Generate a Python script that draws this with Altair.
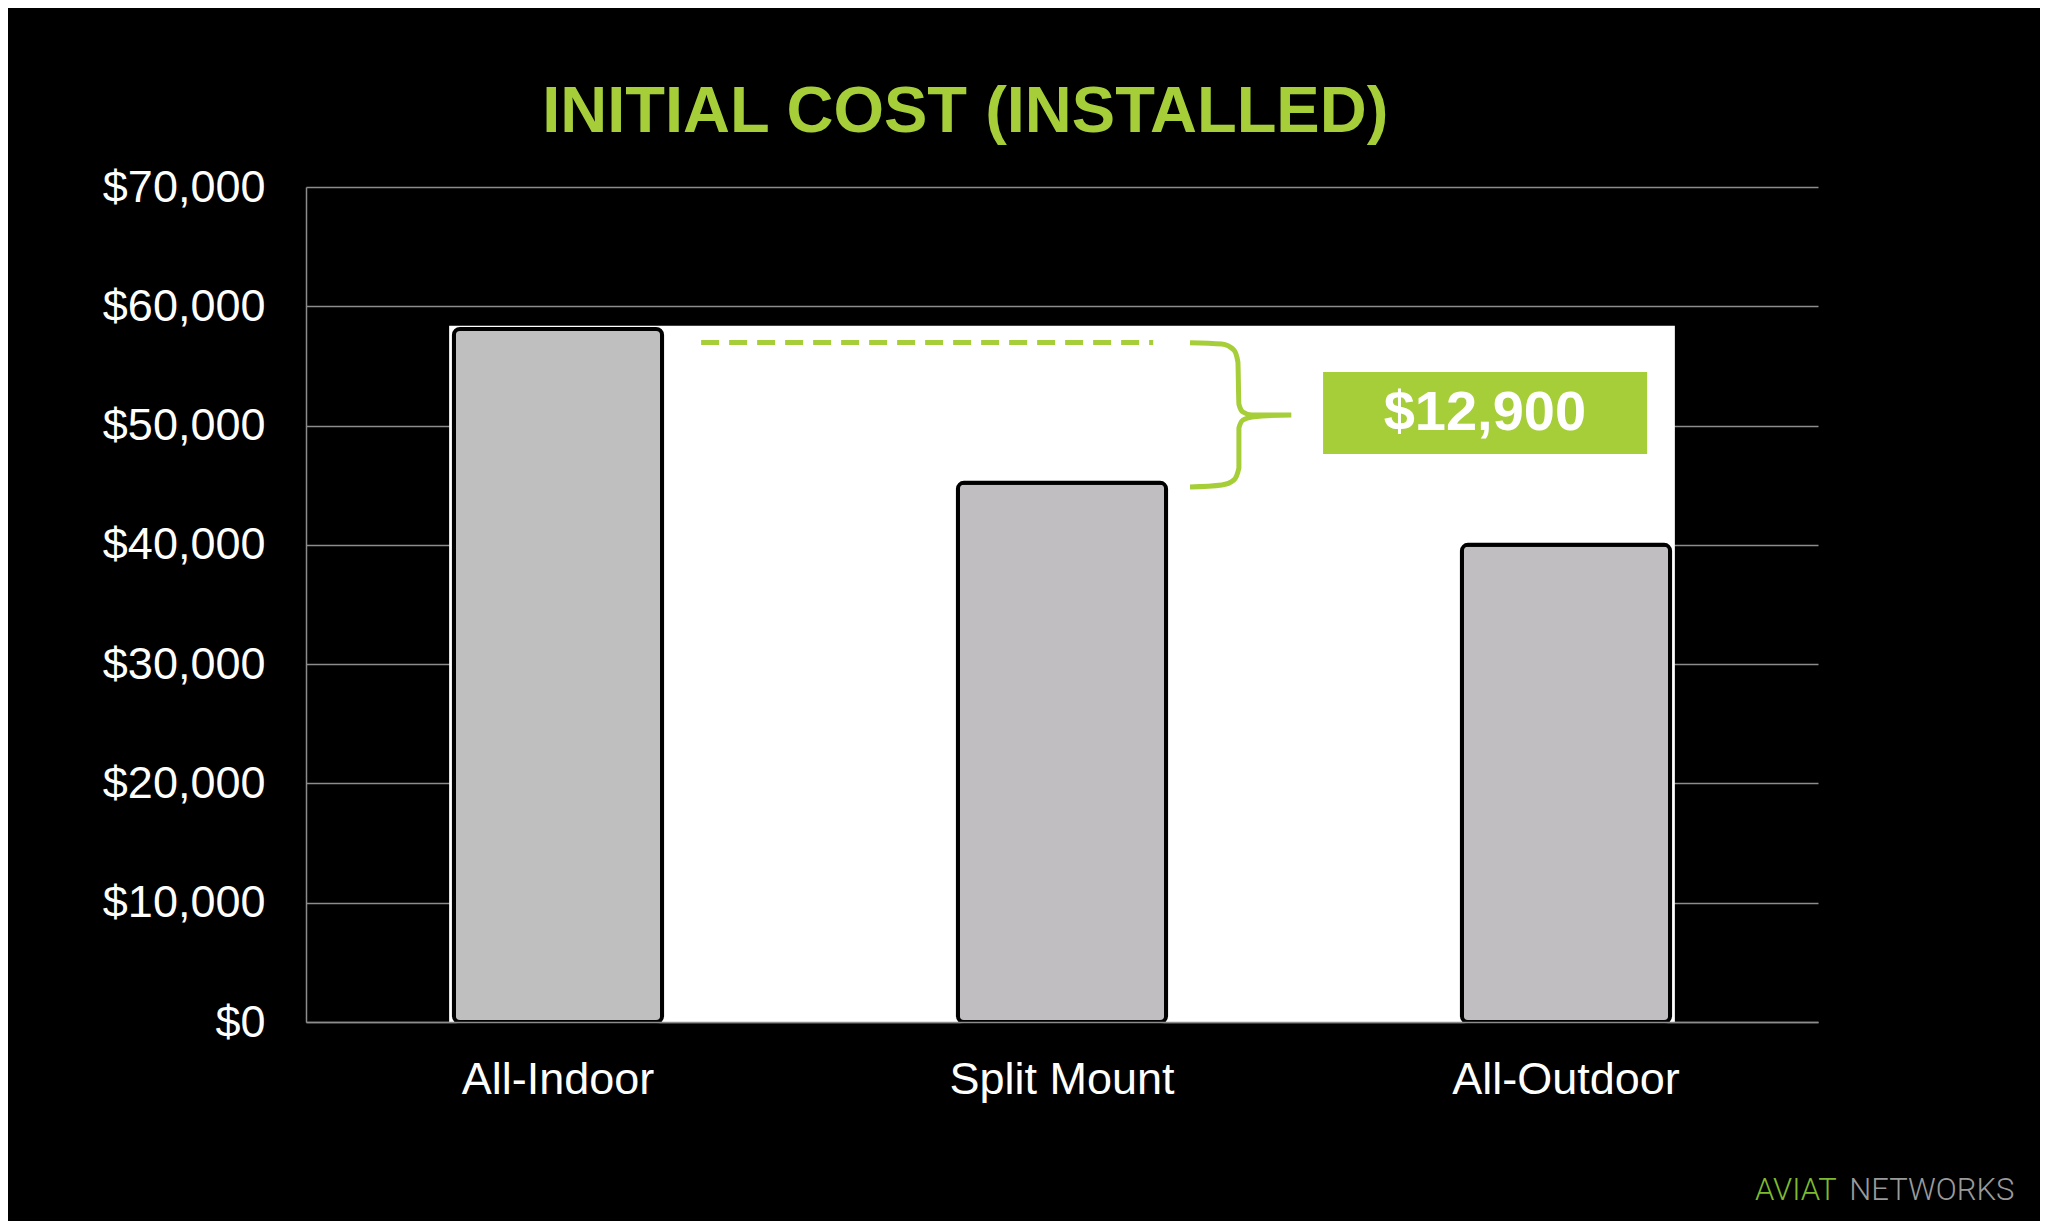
import altair as alt
import pandas as pd

# ---- data ----
categories = ["All-Indoor", "Split Mount", "All-Outdoor"]
costs = [58100, 45200, 40000]
bar_colors = ["#BFBFBF", "#C0BEC1", "#C0BEC1"]

# highlight panel behind the bars (x in category units 0..3, y in dollars)
panel_x = [0.284, 2.716]
panel_y = [0, 58370]

# dashed reference line at the All-Indoor level
dash_x = [0.784, 1.681]
dash_y = 56960

# curly brace marking the difference
brace_x = [1.754, 1.817, 1.841, 1.849, 1.851, 1.859, 1.877, 1.955,
           1.877, 1.859, 1.851, 1.851, 1.841, 1.817, 1.754]
brace_y = [56945, 56837, 56334, 55328, 51807, 51136, 50885, 50885,
           50717, 50466, 49795, 46442, 45436, 45017, 44850]

# savings callout
callout_text = "$12,900"
callout_x = [2.018, 2.661]
callout_y = [47615, 54490]
callout_label_pos = (2.339, 51050)

# chart heading
heading_text = "INITIAL COST (INSTALLED)"
heading_pos = (1.308, 74610)

# logo
logo_words = ["AVIAT", "NETWORKS"]
logo_x = [2.875, 3.062]
logo_y = -14922
logo_colors = ["#7DBA2F", "#9A9A9A"]

GREEN = "#A6CE39"
FONT = "Liberation Sans"

bars_df = pd.DataFrame({"category": categories, "cost": costs, "c": bar_colors})
panel_df = pd.DataFrame({"x": [panel_x[0]], "x2": [panel_x[1]], "y": [panel_y[0]], "y2": [panel_y[1]]})
dash_df = pd.DataFrame({"x": [dash_x[0]], "x2": [dash_x[1]], "y": [dash_y]})
brace_df = pd.DataFrame({"x": brace_x, "y": brace_y, "order": list(range(len(brace_x)))})
box_df = pd.DataFrame({"x": [callout_x[0]], "x2": [callout_x[1]], "y": [callout_y[0]], "y2": [callout_y[1]]})
label_df = pd.DataFrame({"x": [callout_label_pos[0]], "y": [callout_label_pos[1]], "t": [callout_text]})
heading_df = pd.DataFrame({"x": [heading_pos[0]], "y": [heading_pos[1]], "t": [heading_text]})
logo_df = pd.DataFrame({"x": logo_x, "y": [logo_y, logo_y], "t": logo_words, "c": logo_colors})

yscale = alt.Scale(domain=[0, 70000], nice=False)
ux = alt.Scale(domain=[0, 3], nice=False, zero=False)

y_axis = alt.Axis(
    values=list(range(0, 70001, 10000)),
    format="$,d",
    labelColor="white",
    labelFont=FONT,
    labelFontSize=45,
    labelPadding=41,
    ticks=False,
    domain=True,
    domainColor="#8c8c8c",
    domainWidth=1.5,
    grid=True,
    gridColor="#8c8c8c",
    gridWidth=1.5,
    title=None,
)

panel = alt.Chart(panel_df).mark_rect(color="white").encode(
    x=alt.X("x:Q", scale=ux, axis=None),
    x2="x2:Q",
    y=alt.Y("y:Q", scale=yscale, axis=y_axis),
    y2="y2:Q",
)

bars = alt.Chart(bars_df).mark_bar(
    stroke="black", strokeWidth=4, cornerRadius=6
).encode(
    x=alt.X(
        "category:N",
        sort=categories,
        scale=alt.Scale(paddingInner=0.587, paddingOuter=0.2935),
        axis=alt.Axis(
            labelAngle=0,
            labelColor="white",
            labelFont=FONT,
            labelFontSize=45,
            labelPadding=35,
            labelLimit=0,
            ticks=False,
            domainColor="#8c8c8c",
            domainWidth=1.5,
            title=None,
            zindex=1,
        ),
    ),
    y=alt.Y("cost:Q", scale=yscale),
    color=alt.Color("c:N", scale=None),
)

dash = alt.Chart(dash_df).mark_rule(
    color=GREEN, strokeWidth=5, strokeDash=[18, 10]
).encode(
    x=alt.X("x:Q", scale=ux, axis=None),
    x2="x2:Q",
    y=alt.Y("y:Q", scale=yscale),
)

brace = alt.Chart(brace_df).mark_line(
    color=GREEN, strokeWidth=5, interpolate="monotone"
).encode(
    x=alt.X("x:Q", scale=ux, axis=None),
    y=alt.Y("y:Q", scale=yscale),
    order="order:Q",
)

box = alt.Chart(box_df).mark_rect(color=GREEN).encode(
    x=alt.X("x:Q", scale=ux, axis=None),
    x2="x2:Q",
    y=alt.Y("y:Q", scale=yscale),
    y2="y2:Q",
)

label = alt.Chart(label_df).mark_text(
    color="white", font=FONT, fontSize=56, fontWeight="bold", baseline="middle", align="center"
).encode(
    x=alt.X("x:Q", scale=ux, axis=None),
    y=alt.Y("y:Q", scale=yscale),
    text="t:N",
)

heading = alt.Chart(heading_df).mark_text(
    color=GREEN, font=FONT, fontSize=65, fontWeight="bold", baseline="alphabetic", align="center"
).encode(
    x=alt.X("x:Q", scale=ux, axis=None),
    y=alt.Y("y:Q", scale=yscale),
    text="t:N",
)

logo = alt.Chart(logo_df).mark_text(
    font="Roboto", fontSize=31, fontWeight=300, baseline="alphabetic", align="left"
).encode(
    x=alt.X("x:Q", scale=ux, axis=None),
    y=alt.Y("y:Q", scale=yscale),
    text="t:N",
    color=alt.Color("c:N", scale=None),
)

chart = (
    alt.layer(panel, bars, dash, brace, box, label, heading, logo)
    .resolve_scale(x="independent", color="independent")
    .properties(
        width=1512,
        height=835,
        padding={"left": 298, "top": 179, "right": 222, "bottom": 199},
        autosize=alt.AutoSizeParams(type="none"),
        background="black",
    )
    .configure_view(stroke=None)
)

chart.save("out.html", embed_options={"renderer": "svg", "actions": False})
